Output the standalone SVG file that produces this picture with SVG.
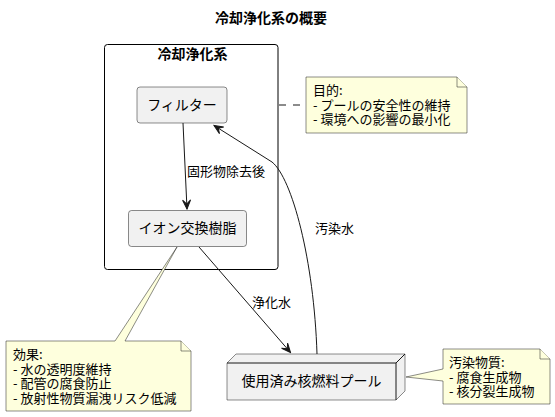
<svg xmlns="http://www.w3.org/2000/svg" width="555" height="417" viewBox="0 0 555 417">
<style>
text{font-family:"Noto Sans CJK JP","Noto Sans",sans-serif;fill:#000}
.t{font-size:14px;font-weight:bold;text-anchor:middle}
.n{font-size:14px;text-anchor:middle}
.l{font-size:13px}
.box{fill:#F1F1F1;stroke:#181818;stroke-width:0.5}
.note{fill:#FEFFDD;stroke:#181818;stroke-width:0.5}
.e{fill:none;stroke:#181818;stroke-width:1}
</style>
<defs>
<marker id="ah" viewBox="-10 -5 11 10" markerWidth="11" markerHeight="10" refX="0" refY="0" orient="auto" markerUnits="userSpaceOnUse">
<path d="M0,0 L-9,-4 L-5,0 L-9,4 Z" fill="#181818" stroke="#181818" stroke-width="1"/>
</marker>
</defs>
<rect width="555" height="417" fill="#FFFFFF"/>
<text class="t" x="271" y="23">冷却浄化系の概要</text>
<g id="pkg">
<rect x="104.5" y="44.5" width="173.5" height="225" rx="3" fill="none" stroke="#000" stroke-width="1"/>
<text class="t" x="192.5" y="59">冷却浄化系</text>
</g>
<g id="filter">
<rect class="box" x="137" y="87" width="90" height="36" rx="3"/>
<text class="n" x="182" y="110">フィルター</text>
</g>
<g id="ion">
<rect class="box" x="128.5" y="210.5" width="118" height="36" rx="3"/>
<text class="n" x="187.5" y="233">イオン交換樹脂</text>
</g>
<g id="pool">
<path class="box" d="M227,363 L236,354 L405,354 L405,391 L396,400 L227,400 Z"/>
<path class="e" d="M227,363 L396,363 L405,354 M396,363 L396,400" stroke-width="0.5"/>
<text class="n" x="311.5" y="386">使用済み核燃料プール</text>
</g>
<g id="note-purpose">
<path class="note" d="M306,77 L457,77 L467,87 L467,133 L306,133 Z"/>
<path class="note" d="M457,77 L457,87 L467,87"/>
<text class="l" x="313" y="95">目的:</text>
<text class="l" x="313" y="109.5">- プールの安全性の維持</text>
<text class="l" x="313" y="124">- 環境への影響の最小化</text>
</g>
<g id="note-effect">
<path class="note" d="M6,341 L115,341 L177,247 L125,341 L181,341 L191,351 L191,411 L6,411 Z"/>
<path class="note" d="M181,341 L181,351 L191,351"/>
<text class="l" x="13" y="359">効果:</text>
<text class="l" x="13" y="373.5">- 水の透明度維持</text>
<text class="l" x="13" y="388">- 配管の腐食防止</text>
<text class="l" x="13" y="402.5">- 放射性物質漏洩リスク低減</text>
</g>
<g id="note-contam">
<path class="note" d="M443,349 L540,349 L550,359 L550,404 L443,404 L443,381 L406,377 L443,369 Z"/>
<path class="note" d="M540,349 L540,359 L550,359"/>
<text class="l" x="449" y="367">汚染物質:</text>
<text class="l" x="449" y="381.5">- 腐食生成物</text>
<text class="l" x="449" y="396">- 核分裂生成物</text>
</g>
<g id="connectors">
<path class="e" d="M183,123 L187,209" marker-end="url(#ah)"/>
<text class="l" x="187" y="176">固形物除去後</text>
<path class="e" d="M199,247 L290.5,352.5" marker-end="url(#ah)"/>
<text class="l" x="252" y="307">浄化水</text>
<path class="e" d="M317,354 C314,260 292,178 272,162 L214,125.5" marker-end="url(#ah)"/>
<text class="l" x="315" y="233">汚染水</text>
<path class="e" d="M279,105 L306,105" stroke-dasharray="7,7"/>
</g>
</svg>
